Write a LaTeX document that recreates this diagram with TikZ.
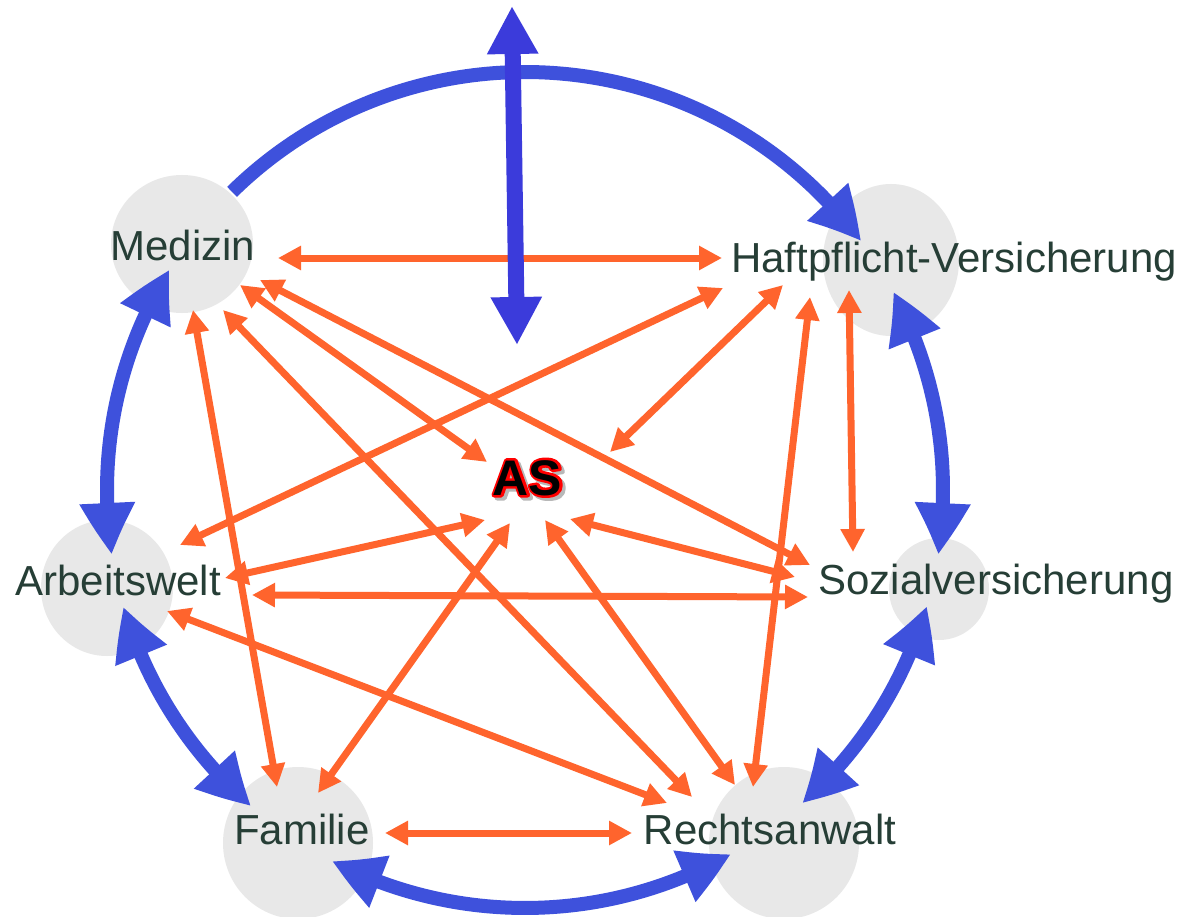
\documentclass[tikz,border=0pt]{standalone}
\usepackage{fontspec}
\setmainfont{Liberation Sans}
\usetikzlibrary{arrows.meta,bending,calc,shapes.geometric}
\definecolor{bluearc}{RGB}{62,81,220}
\definecolor{bluev}{RGB}{59,59,219}
\definecolor{orng}{RGB}{255,100,45}
\definecolor{txtc}{RGB}{38,62,54}
\definecolor{discc}{RGB}{232,232,232}
\tikzset{
  bgdisc/.style={ellipse, fill=discc, draw=none, inner sep=0pt},
  lbl/.style={font=\fontsize{42}{50}\selectfont, text=txtc, anchor=base, inner sep=0pt},
  asfont/.style={font=\fontsize{50}{60}\selectfont\bfseries, anchor=base, inner sep=0pt},
  oarr/.style={draw=orng, line width=7pt,
    {Triangle[length=23pt,width=23pt]}-{Triangle[length=23pt,width=23pt]}},
  barc/.style={draw=bluearc, line width=14pt,
    {Triangle[length=52pt,width=52pt,bend]}-{Triangle[length=52pt,width=52pt,bend]}},
  barcone/.style={draw=bluearc, line width=14pt,
    -{Triangle[length=52pt,width=52pt,bend]}},
  bvert/.style={draw=bluev, line width=16pt,
    {Triangle[length=48pt,width=48pt]}-{Triangle[length=48pt,width=48pt]}},
}
% shadow copy, red stroked copy, then black filled text, all in one box
\newcommand{\outlinedAS}{%
  \rlap{\hspace{3pt}\raisebox{-3pt}{\special{pdf:literal direct q 2 Tr 5 w 1 j 0.72 0.72 0.72 RG 0.72 0.72 0.72 rg}AS\special{pdf:literal direct Q}}}%
  \rlap{\special{pdf:literal direct q 1 Tr 5 w 1 j 1 0 0 RG}AS\special{pdf:literal direct Q}}%
  AS}
\begin{document}
\begin{tikzpicture}[x=1pt,y=-1pt]
\fill[white] (0,0) rectangle (1182,917);
\useasboundingbox (0,0) rectangle (1182,917);

% grey discs
\node[bgdisc, minimum width=142, minimum height=138] (medD) at (182,244) {};
\node[bgdisc, minimum width=136, minimum height=152] (hafD) at (891,260) {};
\node[bgdisc, minimum width=132, minimum height=136] (arbD) at (107,588) {};
\node[bgdisc, minimum width=100, minimum height=102] (sozD) at (939,589) {};
\node[bgdisc, minimum width=150, minimum height=152] (famD) at (298,843) {};
\node[bgdisc, minimum width=150, minimum height=152] (recD) at (784,843) {};

% big blue circle arcs
\coordinate (C) at (525,490);
\coordinate (a1s) at ($(C)+(225.5:418)$);
\coordinate (a2s) at ($(C)+(-28.3:418)$);
\coordinate (a3s) at ($(C)+(16.1:418)$);
\coordinate (a4s) at ($(C)+(60.5:418)$);
\coordinate (a5s) at ($(C)+(130.9:418)$);
\coordinate (a6s) at ($(C)+(171.1:418)$);
\draw[barcone] (a1s) arc[start angle=225.5, end angle=323.5, radius=418];
\draw[barc] (a2s) arc[start angle=-28.3, end angle=8.9, radius=418];
\draw[barc] (a3s) arc[start angle=16.1, end angle=48.5, radius=418];
\draw[barc] (a4s) arc[start angle=60.5, end angle=117.5, radius=418];
\draw[barc] (a5s) arc[start angle=130.9, end angle=163.8, radius=418];
\draw[barc] (a6s) arc[start angle=171.1, end angle=211.8, radius=418];

% orange connector end points
\coordinate (mhA) at (278,258);  \coordinate (mhB) at (722,258);
\coordinate (maA) at (240,285);  \coordinate (maB) at (487,462);
\coordinate (msA) at (260,280);  \coordinate (msB) at (810,565);
\coordinate (mrA) at (223,310);  \coordinate (mrB) at (692,797);
\coordinate (mfA) at (193,310);  \coordinate (mfB) at (277,787);
\coordinate (hwA) at (723,288);  \coordinate (hwB) at (180,545);
\coordinate (haA) at (783,285);  \coordinate (haB) at (610,452);
\coordinate (hrA) at (810,297);  \coordinate (hrB) at (753,787);
\coordinate (hsA) at (849,290);  \coordinate (hsB) at (853,552);
\coordinate (waA) at (225,578);  \coordinate (waB) at (485,520);
\coordinate (wsA) at (252,595);  \coordinate (wsB) at (808,597);
\coordinate (wrA) at (167,611);  \coordinate (wrB) at (667,803);
\coordinate (saA) at (795,577);  \coordinate (saB) at (570,519);
\coordinate (faA) at (318,793);  \coordinate (faB) at (510,523);
\coordinate (raA) at (735,785);  \coordinate (raB) at (545,520);
\coordinate (frA) at (385,833);  \coordinate (frB) at (632,833);

\draw[oarr] (mhA) -- (mhB);
\draw[oarr] (maA) -- (maB);
\draw[oarr] (msA) -- (msB);
\draw[oarr] (mrA) -- (mrB);
\draw[oarr] (mfA) -- (mfB);
\draw[oarr] (hwA) -- (hwB);
\draw[oarr] (haA) -- (haB);
\draw[oarr] (hrA) -- (hrB);
\draw[oarr] (hsA) -- (hsB);
\draw[oarr] (waA) -- (waB);
\draw[oarr] (wsA) -- (wsB);
\draw[oarr] (wrA) -- (wrB);
\draw[oarr] (saA) -- (saB);
\draw[oarr] (faA) -- (faB);
\draw[oarr] (raA) -- (raB);
\draw[oarr] (frA) -- (frB);

% vertical blue arrow
\coordinate (vtop) at (512,6);
\coordinate (vbot) at (517,345);
\draw[bvert] (vbot) -- (vtop);

% labels
\node[lbl] (med) at (183,260) {Medizin};
\node[lbl] (haf) at (954,272) {Haftpflicht-Versicherung};
\node[lbl] (arb) at (118,595) {Arbeitswelt};
\node[lbl] (soz) at (996,594) {Sozialversicherung};
\node[lbl] (fam) at (302,844) {Familie};
\node[lbl] (rec) at (770,844) {Rechtsanwalt};

% AS: black text with red outline and soft grey shadow
\node[asfont, text=black] (as) at (527.5,495) {\outlinedAS};
\end{tikzpicture}
\end{document}
